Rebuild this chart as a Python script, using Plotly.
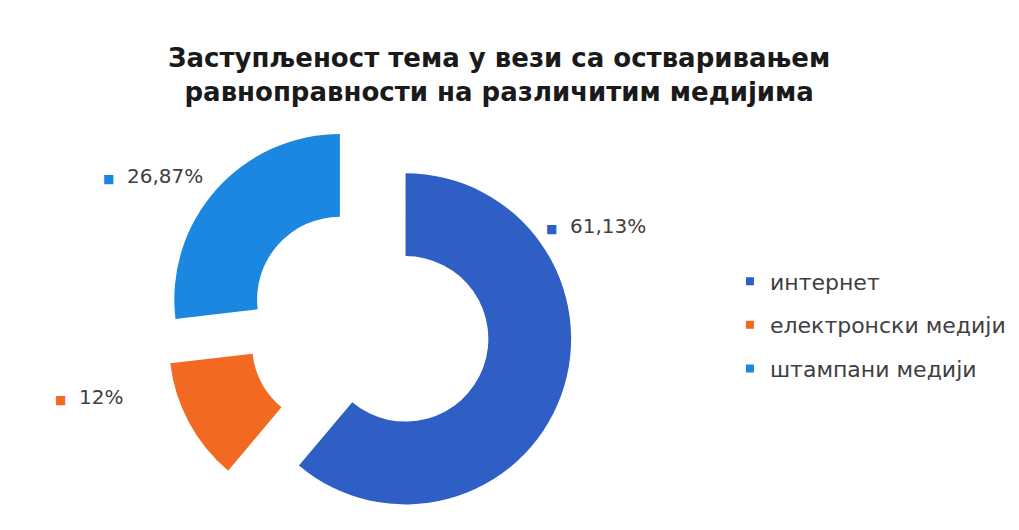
import plotly.graph_objects as go

categories = ["интернет", "електронски медији", "штампани медији"]
values = [61.13, 12.0, 26.87]
value_labels = ["61,13%", "12%", "26,87%"]
colors = ["#2F5FC4", "#F26A21", "#1C87E0"]
title_text = "Заступљеност тема у вези са остваривањем<br>равноправности на различитим медијима"

fig = go.Figure()
fig.add_trace(go.Pie(
    labels=categories,
    values=values,
    hole=0.5,
    sort=False,
    direction="clockwise",
    rotation=0,
    pull=[0.235, 0.235, 0.235],
    marker=dict(colors=colors, line=dict(width=0)),
    textinfo="none",
    showlegend=False,
    domain=dict(x=[0.1531, 0.5554], y=[0.0151, 0.7868]),
))

# legend entries built from categories
for cat, col in zip(categories, colors):
    fig.add_trace(go.Scatter(
        x=[None], y=[None], mode="markers", name=cat, legendgroup=cat,
        marker=dict(symbol="square", size=8, color=col),
    ))

# outside value labels
label_pos = [(0.5262, 0.589), (0.0442, 0.266), (0.0912, 0.683)]
for txt, col, (lx, ly) in zip(value_labels, colors, label_pos):
    fig.add_annotation(
        x=lx, y=ly, xref="paper", yref="paper", xanchor="left", yanchor="middle",
        showarrow=False,
        text=f"<span style='color:{col};font-size:12px'>■</span>  {txt}",
        font=dict(family="DejaVu Sans", size=20, color="#404040"),
    )

fig.update_layout(
    width=1019, height=530,
    margin=dict(l=0, r=0, t=0, b=0),
    paper_bgcolor="white", plot_bgcolor="white",
    title=dict(text=title_text, x=0.482, xanchor="center", y=0.888, yanchor="middle",
               font=dict(family="DejaVu Sans", size=26, color="#1a1a1a", weight="bold")),
    xaxis=dict(visible=False), yaxis=dict(visible=False),
    legend=dict(x=0.7085, y=0.402, xanchor="left", yanchor="middle",
                font=dict(family="DejaVu Sans", size=22, color="#404040"),
                tracegroupgap=12, itemwidth=30),
)
fig.write_html("out.html")
